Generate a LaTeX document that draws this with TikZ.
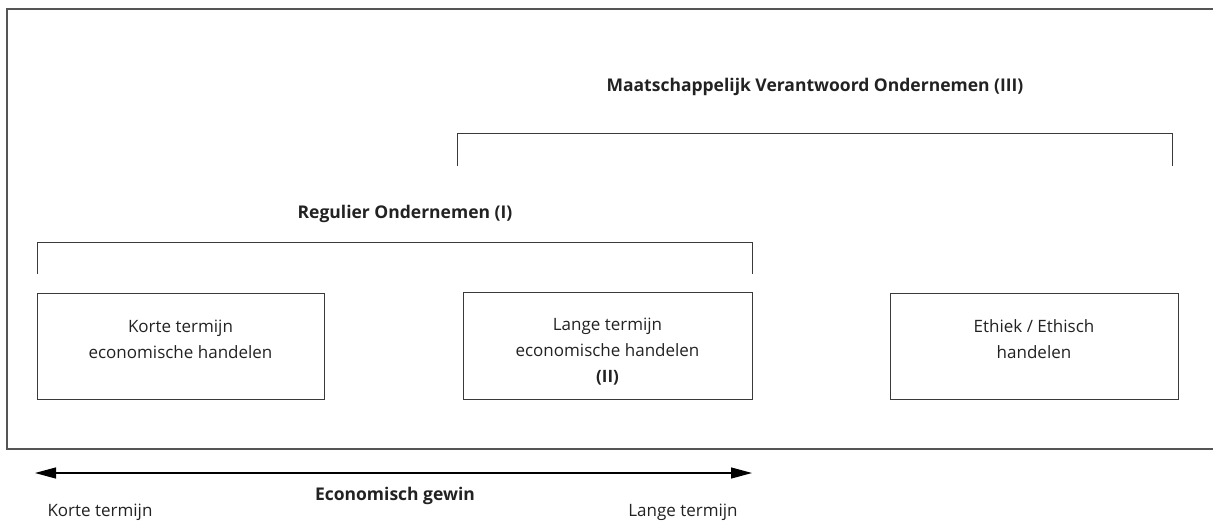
\documentclass[tikz,border=0pt]{standalone}
\usepackage{fontspec}
\setmainfont{Open Sans}
\usetikzlibrary{arrows.meta}
\definecolor{linegray}{HTML}{3A3A3A}
\definecolor{framegray}{HTML}{555555}
\definecolor{txt}{HTML}{222222}
\tikzset{
  boxnode/.style={draw=linegray, line width=1pt, anchor=north west, inner sep=0pt},
  boxtext/.style={text=txt, font=\fontsize{17}{26}\selectfont, align=center},
  titletext/.style={text=txt, font=\fontsize{17.5}{20}\selectfont\bfseries},
  bracket/.style={draw=linegray, line width=1pt},
  axis/.style={draw=black, line width=1.2pt, {Triangle[length=21pt,width=11pt]}-{Triangle[length=21pt,width=11pt]}},
}
\begin{document}
\begin{tikzpicture}[x=1pt,y=-1pt]
\useasboundingbox (0,0) rectangle (1213,522);
% outer frame (open on the right)
\coordinate (ftr) at (1213,9);
\coordinate (ftl) at (7,9);
\coordinate (fbl) at (7,449);
\coordinate (fbr) at (1213,449);
\draw[draw=framegray, line width=1.3pt] (ftr) -- (ftl) -- (fbl) -- (fbr);
% boxes
\node[boxnode, minimum width=287pt, minimum height=106pt] (b1) at (37,293) {};
\node[boxnode, minimum width=289pt, minimum height=107pt] (b2) at (463,292) {};
\node[boxnode, minimum width=288pt, minimum height=106pt] (b3) at (890,293) {};
\node[boxtext] (t1) at (180.5,339) {Korte termijn\\economische handelen};
\node[boxtext] (t2) at (607.5,352) {Lange termijn\\economische handelen\\\textbf{(II)}};
\node[boxtext] (t3) at (1034,339) {Ethiek / Ethisch\\handelen};
% brackets
\coordinate (b1l) at (37,274);
\coordinate (b1tl) at (37,242);
\coordinate (b1tr) at (752,242);
\coordinate (b1r) at (752,274);
\draw[bracket] (b1l) -- (b1tl) -- (b1tr) -- (b1r);
\coordinate (b3l) at (457,166);
\coordinate (b3tl) at (457,133);
\coordinate (b3tr) at (1172,133);
\coordinate (b3r) at (1172,166);
\draw[bracket] (b3l) -- (b3tl) -- (b3tr) -- (b3r);
\node[titletext] (ti1) at (405,214) {Regulier Ondernemen (I)};
\node[titletext] (ti3) at (815,87) {Maatschappelijk Verantwoord Ondernemen (III)};
% axis
\coordinate (al) at (35,473);
\coordinate (ar) at (752,473);
\draw[axis] (al) -- (ar);
\node[titletext] (ax) at (395,496) {Economisch gewin};
\node[boxtext] (kt) at (100,512) {Korte termijn};
\node[boxtext] (lt) at (683,512) {Lange termijn};
\end{tikzpicture}
\end{document}
